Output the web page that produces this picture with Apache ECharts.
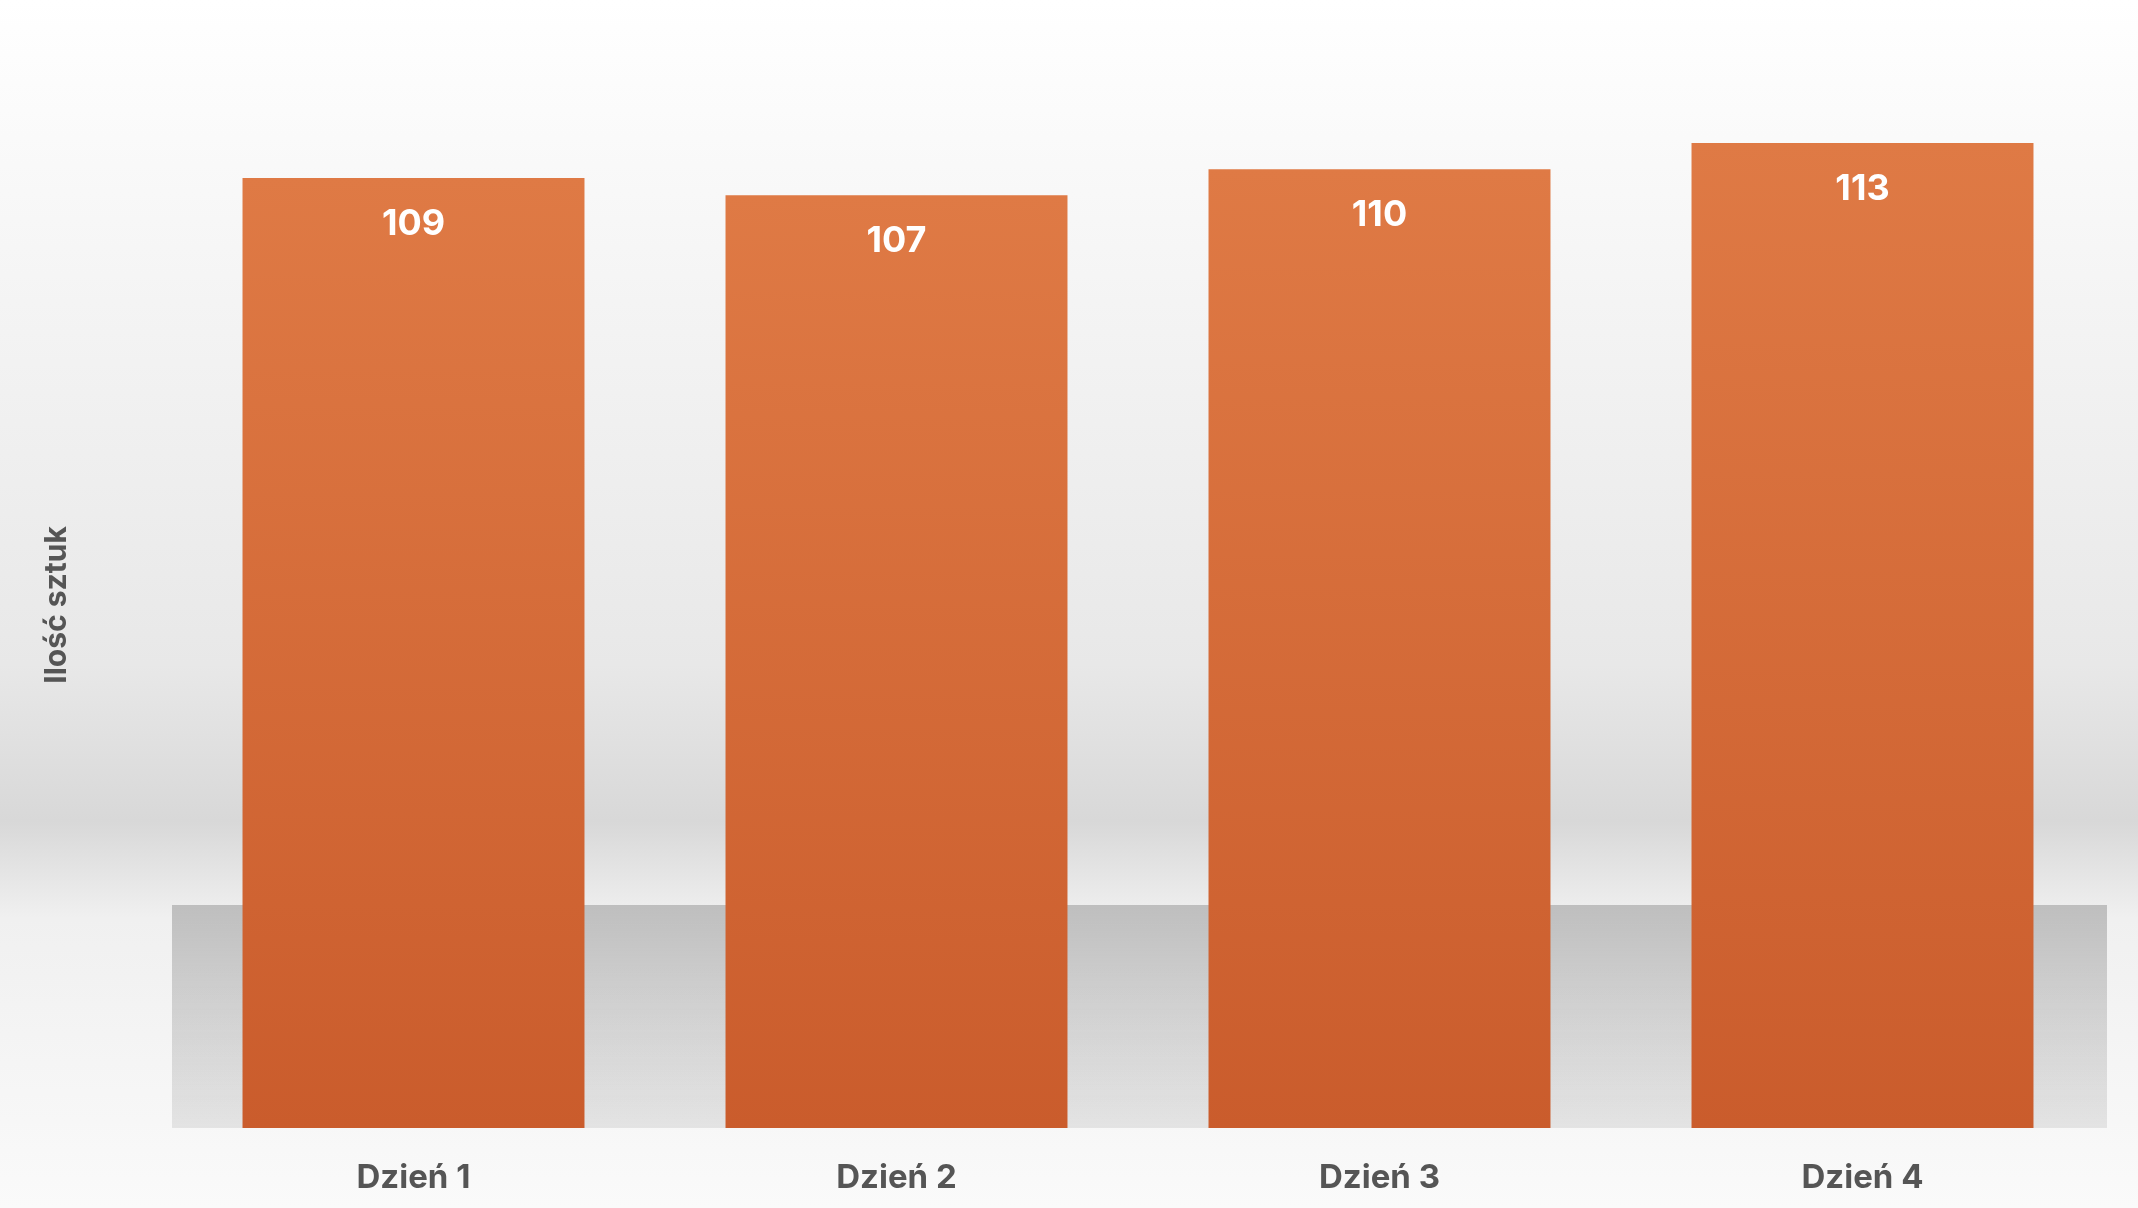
<!DOCTYPE html>
<html>
<head>
<meta charset="utf-8" />
<script src="https://cdn.jsdelivr.net/npm/echarts@6/dist/echarts.min.js"></script>
<style>
  html, body { margin: 0; padding: 0; overflow: hidden; }
  body {
    width: 2138px; height: 1208px;
    background: linear-gradient(to bottom, #ffffff 0%, #f4f4f4 25%, #e8e8e8 55%, #d8d8d8 68%, #f0f0f0 76%, #fafafa 100%);
  }
  #chart { width: 2138px; height: 1208px; }
</style>
</head>
<body>
<div id="chart"></div>
<script>
  var categories = ['Dzień 1', 'Dzień 2', 'Dzień 3', 'Dzień 4'];
  var values = [109, 107, 110, 113];
  var axisTitle = 'Ilość sztuk';

  var chart = echarts.init(document.getElementById('chart'));
  chart.setOption({
    backgroundColor: 'transparent',
    graphic: [{
      type: 'rect', z: -1,
      shape: { x: 172, y: 905, width: 1935, height: 223 },
      style: {
        fill: new echarts.graphic.LinearGradient(0, 0, 0, 1, [
          { offset: 0, color: 'rgba(170,170,170,0.7)' },
          { offset: 1, color: 'rgba(190,190,190,0.35)' }
        ])
      }
    }],
    grid: { left: 172, right: 34, top: 82, bottom: 80 },
    xAxis: {
      type: 'category',
      data: categories,
      axisLine: { show: false },
      axisTick: { show: false },
      axisLabel: { color: '#555', fontSize: 33, fontWeight: 'bold', fontFamily: 'Inter', margin: 34 }
    },
    yAxis: {
      type: 'value',
      min: 0, max: 120,
      name: axisTitle,
      nameLocation: 'middle',
      nameGap: 100,
      nameTextStyle: { color: '#555', fontSize: 30, fontWeight: 'bold', fontFamily: 'Inter' },
      axisLabel: { show: false },
      axisLine: { show: false },
      axisTick: { show: false },
      splitLine: { show: false }
    },
    series: [{
      type: 'bar',
      data: values,
      barWidth: '70.8%',
      itemStyle: {
        color: new echarts.graphic.LinearGradient(0, 0, 0, 1, [
          { offset: 0, color: '#DF7A45' },
          { offset: 1, color: '#CA5C2C' }
        ])
      },
      label: {
        show: true, position: 'insideTop', distance: 28,
        color: '#fff', fontSize: 36, fontWeight: 'bold', fontFamily: 'Inter'
      }
    }]
  });
</script>
</body>
</html>
